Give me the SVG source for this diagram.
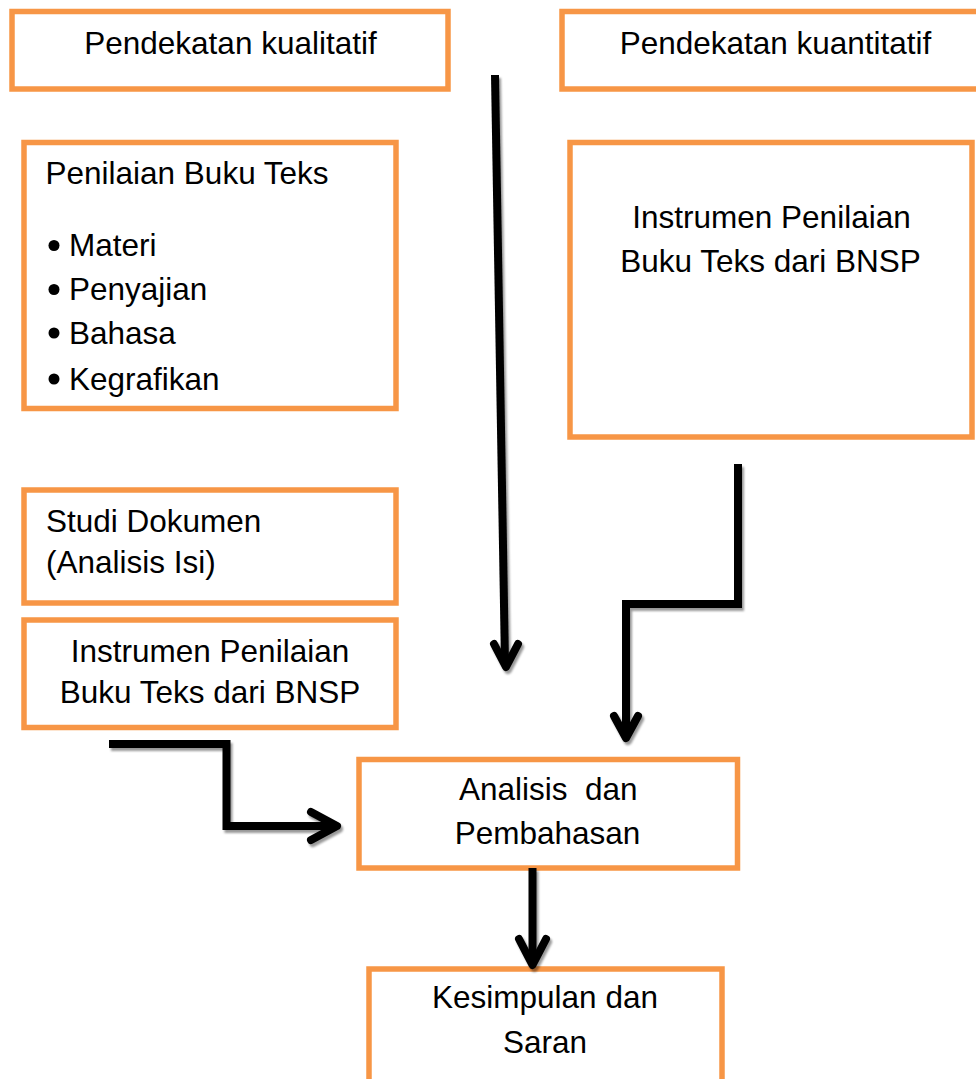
<svg xmlns="http://www.w3.org/2000/svg" width="976" height="1079" viewBox="0 0 976 1079">
<style>
.box{fill:#fff;stroke:#F79646;stroke-width:5.5}
.t{font-family:"Liberation Sans",Arial,sans-serif;font-size:31.5px;fill:#000}
.c{text-anchor:middle}
.ln{fill:none;stroke:#000;stroke-width:8;stroke-linejoin:miter;stroke-linecap:butt}
.hd{fill:none;stroke:#000;stroke-width:8;stroke-linejoin:round;stroke-linecap:round}
</style>
<defs>
<filter id="sh" x="-20%" y="-20%" width="140%" height="140%">
<feDropShadow dx="2" dy="3" stdDeviation="0.8" flood-color="#000" flood-opacity="0.4"/>
</filter>
</defs>
<rect width="976" height="1079" fill="#fff"/>
<g id="kualitatif">
<rect class="box" x="12" y="11.5" width="436" height="77.5"/>
<text class="t c" x="230.5" y="53.5">Pendekatan kualitatif</text>
</g>
<g id="kuantitatif">
<rect class="box" x="562" y="11.5" width="430" height="77.5"/>
<text class="t c" x="775.5" y="53.5">Pendekatan kuantitatif</text>
</g>
<g id="penilaian">
<rect class="box" x="24" y="142.5" width="372" height="266"/>
<text class="t" x="45.5" y="184.3">Penilaian Buku Teks</text>
<circle cx="54" cy="245.5" r="5.5"/>
<text class="t" x="69" y="256">Materi</text>
<circle cx="54" cy="289.5" r="5.5"/>
<text class="t" x="69" y="300">Penyajian</text>
<circle cx="54" cy="333" r="5.5"/>
<text class="t" x="69" y="343.5">Bahasa</text>
<circle cx="54" cy="379" r="5.5"/>
<text class="t" x="69" y="389.5">Kegrafikan</text>
</g>
<g id="instrumen-kanan">
<rect class="box" x="570" y="142.5" width="402" height="294.5"/>
<text class="t c" x="771.5" y="227.7">Instrumen Penilaian</text>
<text class="t c" x="770.5" y="271.7">Buku Teks dari BNSP</text>
</g>
<g id="studi">
<rect class="box" x="24" y="490" width="372" height="113"/>
<text class="t" x="46" y="532.3">Studi Dokumen</text>
<text class="t" x="46" y="573">(Analisis Isi)</text>
</g>
<g id="instrumen-kiri">
<rect class="box" x="24" y="620" width="372" height="107.5"/>
<text class="t c" x="210" y="661.7">Instrumen Penilaian</text>
<text class="t c" x="210" y="703.3">Buku Teks dari BNSP</text>
</g>
<g id="analisis">
<rect class="box" x="359" y="759.5" width="378.5" height="108.5"/>
<text class="t c" x="548.3" y="800" xml:space="preserve">Analisis  dan</text>
<text class="t c" x="547.5" y="844">Pembahasan</text>
</g>
<g id="kesimpulan">
<rect class="box" x="369" y="969" width="353" height="130"/>
<text class="t c" x="545" y="1008.3">Kesimpulan dan</text>
<text class="t c" x="545" y="1052.7">Saran</text>
</g>
<g id="connectors" filter="url(#sh)">
<path class="ln" d="M495,75 L505,664"/>
<path class="hd" d="M494,644 L506,667 L518,644"/>
<path class="ln" d="M738,464 L738,604 L626,604 L626,736"/>
<path class="hd" d="M614,716 L626,738 L638,716"/>
<path class="ln" d="M109,744 L226.5,744 L226.5,826 L334,826"/>
<path class="hd" d="M311,812 L337,826 L311,840"/>
<path class="ln" d="M532.5,868 L532.5,962"/>
<path class="hd" d="M519,939 L532.5,965 L546,939"/>
</g>
</svg>
